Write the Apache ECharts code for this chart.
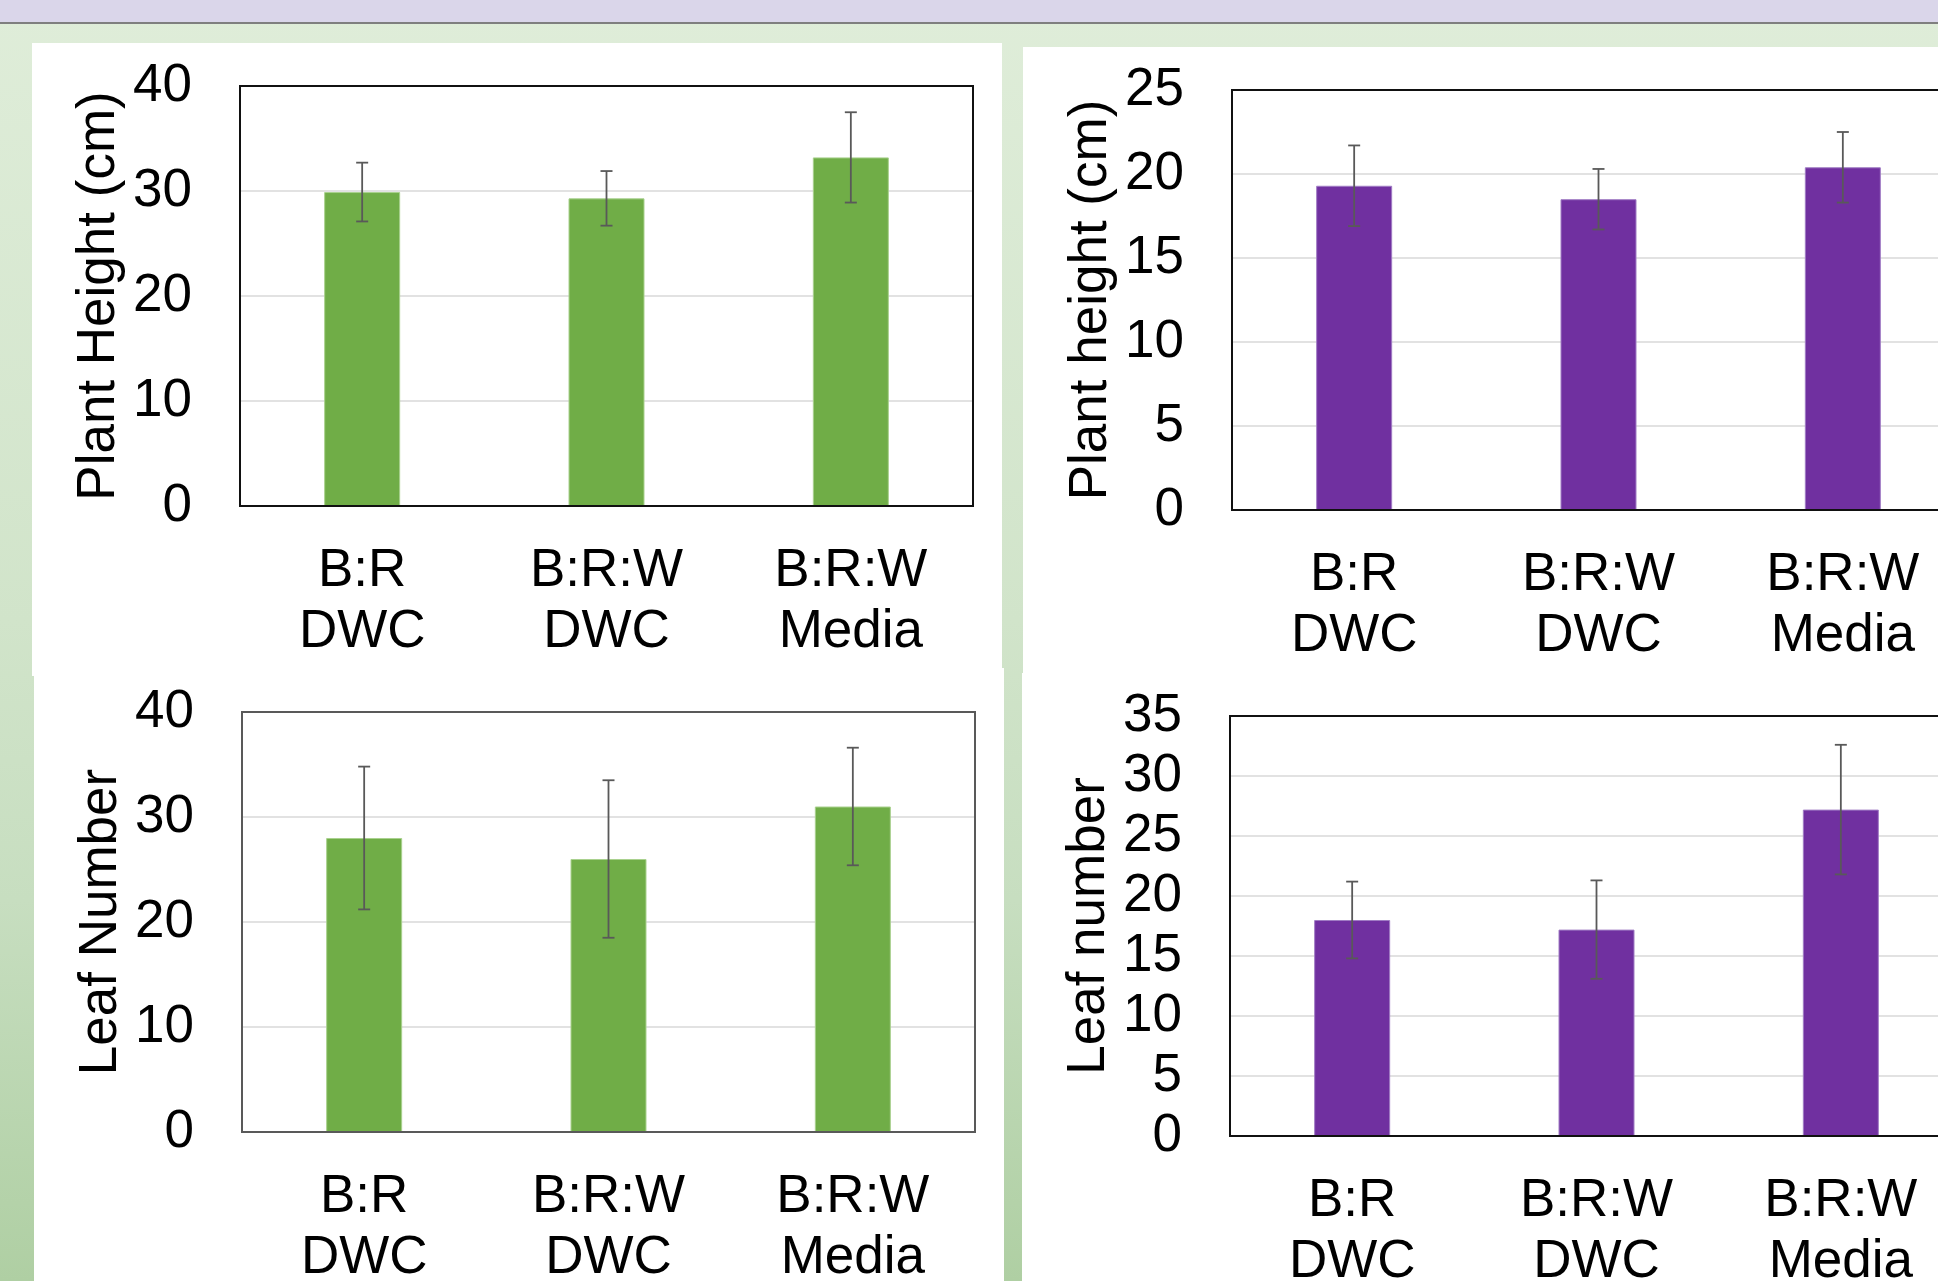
<!DOCTYPE html>
<html><head><meta charset="utf-8">
<script src="https://cdn.jsdelivr.net/npm/echarts@6/dist/echarts.min.js"></script>
<style>
html,body{margin:0;padding:0;width:1938px;height:1281px;overflow:hidden;position:relative;}
#bg{position:absolute;left:0;top:0;width:1938px;height:1281px;background:linear-gradient(to bottom,#dfedd9 0px,#d1e4ca 620px,#c7dec0 900px,#afcfa3 1281px);}
#band{position:absolute;left:0;top:0;width:1938px;height:22px;background:#dad6ea;}
#rule{position:absolute;left:0;top:22px;width:1938px;height:2px;background:#7f7f7f;}
.panel{position:absolute;background:#fff;}
#chart{position:absolute;left:0;top:0;width:2000px;height:1281px;}
</style></head>
<body>
<div id="bg"></div>
<div id="band"></div>
<div id="rule"></div>
<div class="panel" style="left:32px;top:43px;width:970px;height:633px;"></div>
<div class="panel" style="left:34px;top:668px;width:970px;height:613px;"></div>
<div class="panel" style="left:1023px;top:47px;width:915px;height:633px;"></div>
<div class="panel" style="left:1022px;top:673px;width:916px;height:608px;"></div>
<div id="chart"></div>
<script>
const categories = ['B:R\nDWC', 'B:R:W\nDWC', 'B:R:W\nMedia'];
const heightGreenMean = [29.9, 29.3, 33.2];
const heightGreenErr = [2.8, 2.6, 4.3];
const heightPurpleMean = [19.3, 18.5, 20.4];
const heightPurpleErr = [2.4, 1.8, 2.1];
const leafGreenMean = [28.0, 26.0, 31.0];
const leafGreenErr = [6.8, 7.5, 5.6];
const leafPurpleMean = [18.0, 17.2, 27.2];
const leafPurpleErr = [3.2, 4.1, 5.4];
const yTitles = ['Plant Height (cm)', 'Plant height (cm)', 'Leaf Number', 'Leaf number'];
const yMax = [40, 25, 40, 35];
const yStep = [10, 5, 10, 5];

const FONT = '"Liberation Sans", Arial, Helvetica, sans-serif';
const GREEN = '#70ad47', PURPLE = '#7030a0';
const panels = [
  {mean: heightGreenMean, err: heightGreenErr, color: GREEN, edge: '#a9d18e', border: '#111',
   grid: {left: 240, top: 86, width: 733, height: 420}},
  {mean: heightPurpleMean, err: heightPurpleErr, color: PURPLE, edge: '#a07cc4', border: '#111',
   grid: {left: 1232, top: 90, width: 733, height: 420}},
  {mean: leafGreenMean, err: leafGreenErr, color: GREEN, edge: '#a9d18e', border: '#595959',
   grid: {left: 242, top: 712, width: 733, height: 420}},
  {mean: leafPurpleMean, err: leafPurpleErr, color: PURPLE, edge: '#a07cc4', border: '#111',
   grid: {left: 1230, top: 716, width: 733, height: 420}}
];

function errRender(params, api) {
  const c = api.value(0), lo = api.value(1), hi = api.value(2);
  const pHi = api.coord([c, hi]);
  const pLo = api.coord([c, lo]);
  const hw = 6;
  const st = {stroke: '#595959', lineWidth: 1.8};
  return {type: 'group', children: [
    {type: 'line', shape: {x1: pHi[0], y1: pHi[1], x2: pLo[0], y2: pLo[1]}, style: st},
    {type: 'line', shape: {x1: pHi[0] - hw, y1: pHi[1], x2: pHi[0] + hw, y2: pHi[1]}, style: st},
    {type: 'line', shape: {x1: pLo[0] - hw, y1: pLo[1], x2: pLo[0] + hw, y2: pLo[1]}, style: st}
  ]};
}
function frameRender(color) {
  return function (params, api) {
    const cs = params.coordSys;
    return {type: 'rect', shape: {x: cs.x, y: cs.y, width: cs.width, height: cs.height},
      style: {fill: null, stroke: color, lineWidth: 2}, silent: true};
  };
}

const grid = [], xAxis = [], yAxis = [], series = [];
panels.forEach((p, i) => {
  grid.push(Object.assign({show: false, containLabel: false, outerBoundsMode: 'none'}, p.grid));
  xAxis.push({
    type: 'category', gridIndex: i, data: categories,
    axisLine: {show: false}, axisTick: {show: false}, splitLine: {show: false},
    axisLabel: {fontSize: 53, lineHeight: 61, color: '#000', fontFamily: FONT, margin: 35, interval: 0}
  });
  yAxis.push({
    type: 'value', gridIndex: i, min: 0, max: yMax[i], interval: yStep[i],
    name: yTitles[i], nameLocation: 'middle', nameRotate: 90, nameGap: 114,
    nameTextStyle: {fontSize: 53, color: '#000', fontFamily: FONT},
    axisLine: {show: false}, axisTick: {show: false},
    splitLine: {show: true, lineStyle: {color: '#d9d9d9', width: 1.5}},
    axisLabel: {fontSize: 53, color: '#000', fontFamily: FONT, margin: 48}
  });
  series.push({
    type: 'bar', xAxisIndex: i, yAxisIndex: i, data: p.mean, barWidth: 76,
    itemStyle: {color: p.color, borderColor: p.edge, borderWidth: 1}, z: 2
  });
  series.push({
    type: 'custom', xAxisIndex: i, yAxisIndex: i, renderItem: errRender, z: 3,
    encode: {x: 0, y: [1, 2]},
    data: p.mean.map((m, k) => [k, m - p.err[k], m + p.err[k]])
  });
  series.push({
    type: 'custom', xAxisIndex: i, yAxisIndex: i, renderItem: frameRender(p.border), z: 4,
    clip: false, silent: true, data: [[0, 0]]
  });
});

const chart = echarts.init(document.getElementById('chart'), null, {renderer: 'canvas'});
chart.setOption({animation: false, backgroundColor: 'transparent', grid, xAxis, yAxis, series});
</script>
</body></html>
